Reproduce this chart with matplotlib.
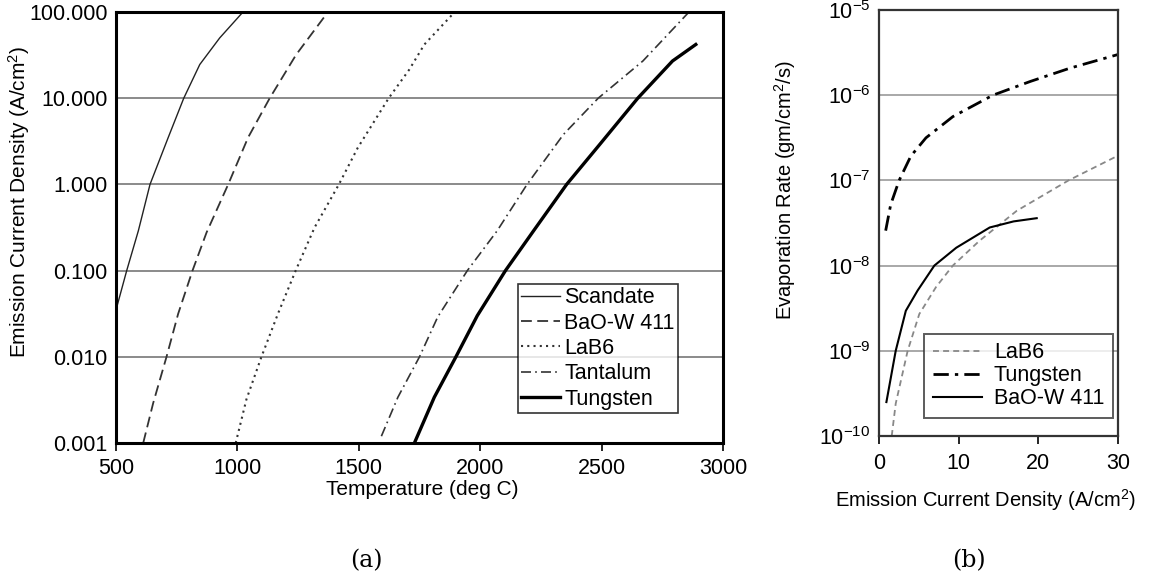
import matplotlib
matplotlib.use("Agg")
import matplotlib.pyplot as plt
import matplotlib.ticker as mticker

plt.rcParams["font.family"] = ["Liberation Sans", "DejaVu Sans"]
plt.rcParams["mathtext.fontset"] = "custom"
plt.rcParams["mathtext.rm"] = "Liberation Sans"
plt.rcParams["mathtext.it"] = "Liberation Sans:italic"

# (a) emission current density (A/cm2) vs temperature (deg C)
scandate_t = [503, 544, 592, 640, 715, 779, 845, 927, 1023]
scandate_j = [0.0376, 0.1, 0.29, 1.0, 3.5, 10, 24.6, 50, 100]
bao_t = [612, 653, 708, 756, 815, 873, 962, 1044, 1133, 1242, 1373]
bao_j = [0.001, 0.0029, 0.01, 0.0316, 0.1, 0.277, 1.0, 3.5, 10, 32, 100]
lab6_t = [993, 1037, 1099, 1167, 1240, 1318, 1418, 1496, 1623, 1708, 1770, 1895]
lab6_j = [0.001, 0.0032, 0.01, 0.0316, 0.1, 0.317, 1.0, 2.67, 10, 21.5, 42, 100]
tant_t = [1593, 1661, 1750, 1825, 1947, 2070, 2193, 2343, 2486, 2670, 2860]
tant_j = [0.0012, 0.0034, 0.01, 0.029, 0.1, 0.29, 1.0, 3.8, 10, 27, 100]
tung_t = [1729, 1811, 1900, 1988, 2104, 2220, 2356, 2492, 2649, 2792, 2888]
tung_j = [0.001, 0.0034, 0.01, 0.030, 0.1, 0.29, 1.0, 2.9, 10, 27, 42]

# (b) evaporation rate (gm/cm2/s) vs emission current density (A/cm2)
lab6_b_x = [1.6, 2.1, 3.6, 5.06, 7.16, 9.27, 12.6, 17.3, 23.8, 29.9]
lab6_b_y = [1e-10, 2.4e-10, 1e-9, 2.7e-9, 5.6e-9, 1e-8, 1.95e-8, 4.4e-8, 1e-7, 1.93e-7]
tung_b_x = [0.84, 1.47, 2.53, 4.0, 5.9, 9.27, 14.3, 19.0, 24.0, 30.0]
tung_b_y = [2.57e-8, 5.2e-8, 1e-7, 1.93e-7, 3.16e-7, 5.6e-7, 1e-6, 1.45e-6, 2.08e-6, 3.0e-6]
bao_b_x = [0.93, 2.1, 3.37, 4.85, 6.95, 9.7, 13.9, 16.9, 19.8]
bao_b_y = [2.5e-10, 1e-9, 2.95e-9, 5.1e-9, 1e-8, 1.62e-8, 2.8e-8, 3.3e-8, 3.6e-8]

fig = plt.figure(figsize=(11.59, 5.77), dpi=100)

# ---- panel (a)
ax = fig.add_axes([0.1001, 0.2322, 0.5237, 0.747])
ax.plot(scandate_t, scandate_j, color="#222222", lw=1.0, label="Scandate")
ax.plot(bao_t, bao_j, color="#333333", lw=1.3, ls=(0, (6, 3)), label="BaO-W 411")
ax.plot(lab6_t, lab6_j, color="#333333", lw=1.5, ls=(0, (1, 2)), label="LaB6")
ax.plot(tant_t, tant_j, color="#333333", lw=1.2, ls=(0, (6, 2.5, 1, 2.5)), label="Tantalum")
ax.plot(tung_t, tung_j, color="black", lw=2.4, label="Tungsten")
ax.set_yscale("log")
ax.set_xlim(500, 3000)
ax.set_ylim(0.001, 100)
ax.set_xticks([500, 1000, 1500, 2000, 2500, 3000])
ax.set_yticks([0.001, 0.01, 0.1, 1, 10, 100])
ax.yaxis.set_major_formatter(mticker.FuncFormatter(lambda v, p: f"{v:.3f}"))
ax.yaxis.set_minor_locator(mticker.NullLocator())
ax.grid(True, axis="y", color="#777777", lw=1.2)
ax.tick_params(axis="y", length=0, labelsize=15.5, pad=6)
ax.tick_params(axis="x", length=6, width=1.2, labelsize=15.5, direction="out", pad=5)
for s in ax.spines.values():
    s.set_linewidth(2.2)
ax.set_xlabel("Temperature (deg C)", fontsize=15)
ax.xaxis.set_label_coords(0.504, -0.086)
ax.set_ylabel("Emission Current Density (A/cm$^2$)", fontsize=15)
ax.yaxis.set_label_coords(-0.138, 0.56)
leg = ax.legend(loc="lower right", bbox_to_anchor=(0.926, 0.07), fontsize=15.5,
                frameon=True, fancybox=False, edgecolor="black",
                handlelength=1.8, handletextpad=0.2, borderpad=0.15,
                labelspacing=0.2, borderaxespad=0)
leg.get_frame().set_linewidth(1.2)

# ---- panel (b)
bx = fig.add_axes([0.7584, 0.2444, 0.2062, 0.7383])
bx.plot(lab6_b_x, lab6_b_y, color="#888888", lw=1.3, ls=(0, (3.3, 2.3)), label="LaB6")
bx.plot(tung_b_x, tung_b_y, color="black", lw=2.0, ls=(0, (5.5, 2.2, 1.2, 2.2)), label="Tungsten")
bx.plot(bao_b_x, bao_b_y, color="black", lw=1.5, label="BaO-W 411")
bx.set_yscale("log")
bx.set_xlim(0, 30)
bx.set_ylim(1e-10, 1e-5)
bx.set_xticks([0, 10, 20, 30])
bx.set_yticks([1e-10, 1e-9, 1e-8, 1e-7, 1e-6, 1e-5])
bx.yaxis.set_major_formatter(mticker.LogFormatterMathtext())
bx.yaxis.set_minor_locator(mticker.NullLocator())
bx.grid(True, axis="y", color="#999999", lw=1.2)
bx.tick_params(axis="y", length=0, labelsize=15.5, pad=6)
bx.tick_params(axis="x", length=6, width=1.2, labelsize=15.5, direction="out", pad=6)
for s in bx.spines.values():
    s.set_linewidth(1.6)
    s.set_color("#333333")
bx.set_xlabel("Emission Current Density (A/cm$^2$)", fontsize=14.5)
bx.xaxis.set_label_coords(0.448, -0.12)
bx.set_ylabel("Evaporation Rate (gm/cm$^2$/s)", fontsize=14.5)
bx.yaxis.set_label_coords(-0.34, 0.577)
leg2 = bx.legend(loc="lower right", bbox_to_anchor=(0.979, 0.042), fontsize=15.5,
                 frameon=True, fancybox=False, edgecolor="#333333",
                 handlelength=2.3, handletextpad=0.55, borderpad=0.4,
                 labelspacing=0.1, borderaxespad=0)
leg2.get_frame().set_linewidth(1.4)

fig.text(0.316, 0.028, "(a)", fontsize=17, family=["DejaVu Serif"], ha="center", va="center")
fig.text(0.836, 0.028, "(b)", fontsize=17, family=["DejaVu Serif"], ha="center", va="center")

fig.savefig("out.png", dpi=100)
